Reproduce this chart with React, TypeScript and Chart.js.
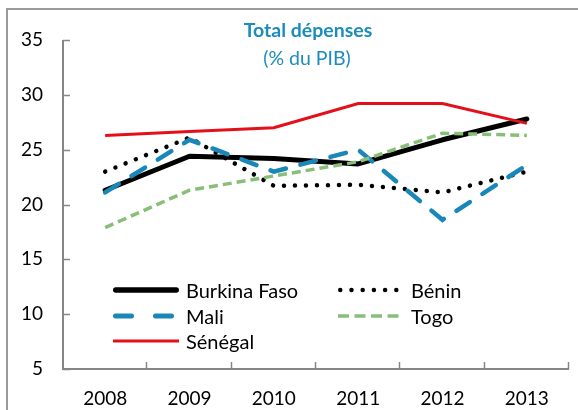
import React, { useEffect, useRef } from "react";
import { Chart, registerables } from "chart.js";

Chart.register(...registerables);

const years = ["2008", "2009", "2010", "2011", "2012", "2013"];
const burkinaFaso = [21.3, 24.4, 24.2, 23.7, 25.9, 27.8];
const benin = [23.0, 26.1, 21.7, 21.8, 21.1, 23.0];
const mali = [21.1, 25.9, 23.0, 25.0, 18.6, 23.6];
const togo = [17.9, 21.3, 22.6, 23.9, 26.5, 26.3];
const senegal = [26.3, 26.65, 27.0, 29.2, 29.2, 27.4];
const yMin = 5;
const yMax = 35;
const yStep = 5;
const titleText = "Total dépenses";
const subtitleText = "(% du PIB)";

const FONT = "Lato";
const TITLE_COLOR = "#1B8CBD";
const AXIS_COLOR = "#868686";

type LegendStyle = {
  label: string;
  color: string;
  width: number;
  dash: number[];
  cap: CanvasLineCap;
  col: number;
  row: number;
};

const legendStyles: LegendStyle[] = [
  { label: "Burkina Faso", color: "#000000", width: 5.5, dash: [], cap: "round", col: 0, row: 0 },
  { label: "Bénin", color: "#000000", width: 4.5, dash: [0.01, 11.2], cap: "round", col: 1, row: 0 },
  { label: "Mali", color: "#1A87B9", width: 5, dash: [16, 24], cap: "round", col: 0, row: 1 },
  { label: "Togo", color: "#88BF78", width: 3.5, dash: [11, 5.5], cap: "butt", col: 1, row: 1 },
  { label: "Sénégal", color: "#E3101A", width: 3, dash: [], cap: "butt", col: 0, row: 2 },
];

const decorPlugin = {
  id: "decor",
  afterDraw(chart: any) {
    const ctx: CanvasRenderingContext2D = chart.ctx;
    const area = chart.chartArea;
    const xs = chart.scales.x;
    const ys = chart.scales.y;
    ctx.save();

    // outer border
    ctx.strokeStyle = "#9a9a9a";
    ctx.lineWidth = 2;
    ctx.beginPath();
    ctx.moveTo(7, 420);
    ctx.lineTo(7, 9);
    ctx.lineTo(600, 9);
    ctx.stroke();

    // axes
    ctx.strokeStyle = AXIS_COLOR;
    ctx.lineWidth = 2;
    ctx.beginPath();
    ctx.moveTo(area.left, area.top);
    ctx.lineTo(area.left, area.bottom);
    ctx.lineTo(area.right, area.bottom);
    ctx.stroke();

    // y ticks (inside)
    ctx.lineWidth = 1.5;
    ctx.beginPath();
    for (let v = yMin; v <= yMax; v += yStep) {
      const y = Math.round(ys.getPixelForValue(v)) + 0.5;
      ctx.moveTo(area.left, y);
      ctx.lineTo(area.left + 7, y);
    }
    // x ticks between categories (inside)
    const n = years.length;
    const half = (xs.getPixelForValue(1) - xs.getPixelForValue(0)) / 2;
    for (let i = 0; i < n; i++) {
      const x = Math.round(xs.getPixelForValue(i) + half) - 0.5;
      ctx.moveTo(x, area.bottom);
      ctx.lineTo(x, area.bottom - 7);
    }
    ctx.stroke();

    // title
    const cx = (area.left + area.right) / 2 - 8;
    ctx.fillStyle = TITLE_COLOR;
    ctx.textAlign = "center";
    ctx.textBaseline = "alphabetic";
    ctx.font = `bold 19.5px ${FONT}`;
    ctx.fillText(titleText, cx, 37);
    ctx.font = `19.5px ${FONT}`;
    ctx.fillText(subtitleText, cx - 1, 65);

    // legend
    const colX = [area.left + 50, area.left + 275];
    const rowY = [290, 316, 341];
    ctx.font = `20px ${FONT}`;
    ctx.textAlign = "left";
    ctx.textBaseline = "middle";
    for (const s of legendStyles) {
      const x0 = colX[s.col];
      const y = rowY[s.row];
      ctx.strokeStyle = s.color;
      ctx.lineWidth = s.width;
      ctx.lineCap = s.cap;
      ctx.setLineDash(s.dash);
      ctx.beginPath();
      const inset = s.cap === "round" ? s.width / 2 : 0;
      ctx.moveTo(x0 + inset, y);
      ctx.lineTo(x0 + 66 - inset, y);
      ctx.stroke();
      ctx.setLineDash([]);
      ctx.fillStyle = "#000000";
      ctx.fillText(s.label, x0 + 73, y + 1.5);
    }
    ctx.restore();
  },
};

export default function App() {
  const ref = useRef<HTMLCanvasElement | null>(null);

  useEffect(() => {
    if (!ref.current) return;
    const chart = new Chart(ref.current, {
      type: "line",
      data: {
        labels: years,
        datasets: [
          {
            label: "Burkina Faso",
            data: burkinaFaso,
            borderColor: "#000000",
            borderWidth: 5,
            borderJoinStyle: "round",
            borderCapStyle: "round",
            order: 5,
          },
          {
            label: "Bénin",
            data: benin,
            borderColor: "#000000",
            borderWidth: 4.5,
            borderDash: [0.01, 11],
            borderCapStyle: "round",
            order: 4,
          },
          {
            label: "Mali",
            data: mali,
            borderColor: "#1A87B9",
            borderWidth: 4.5,
            borderDash: [16, 15],
            borderCapStyle: "round",
            order: 3,
          },
          {
            label: "Togo",
            data: togo,
            borderColor: "#88BF78",
            borderWidth: 3.5,
            borderDash: [9, 5],
            order: 2,
          },
          {
            label: "Sénégal",
            data: senegal,
            borderColor: "#E3101A",
            borderWidth: 3,
            order: 1,
          },
        ],
      },
      options: {
        responsive: false,
        animation: false,
        events: [],
        layout: { padding: { top: 40, right: 9, left: 0, bottom: 0 } },
        elements: {
          point: { radius: 0 },
          line: { tension: 0, fill: false },
        },
        plugins: {
          legend: { display: false },
          title: { display: false },
          tooltip: { enabled: false },
        },
        scales: {
          x: {
            type: "category",
            offset: true,
            grid: { display: false, drawTicks: false },
            border: { display: false },
            ticks: {
              color: "#000000",
              padding: 18,
              maxRotation: 0,
              font: { family: FONT, size: 19 },
            },
            afterFit: (s: any) => {
              s.height = 41;
            },
          },
          y: {
            min: yMin,
            max: yMax,
            grid: { display: false, drawTicks: false },
            border: { display: false },
            ticks: {
              stepSize: yStep,
              color: "#000000",
              padding: 20,
              font: { family: FONT, size: 19 },
            },
            afterFit: (s: any) => {
              s.width = 63;
            },
          },
        },
      },
      plugins: [decorPlugin],
    });
    return () => chart.destroy();
  }, []);

  return (
    <div style={{ position: "absolute", left: 0, top: 0, width: 578, height: 410, background: "#ffffff" }}>
      <canvas ref={ref} width={578} height={410} style={{ width: 578, height: 410, display: "block" }} />
    </div>
  );
}
